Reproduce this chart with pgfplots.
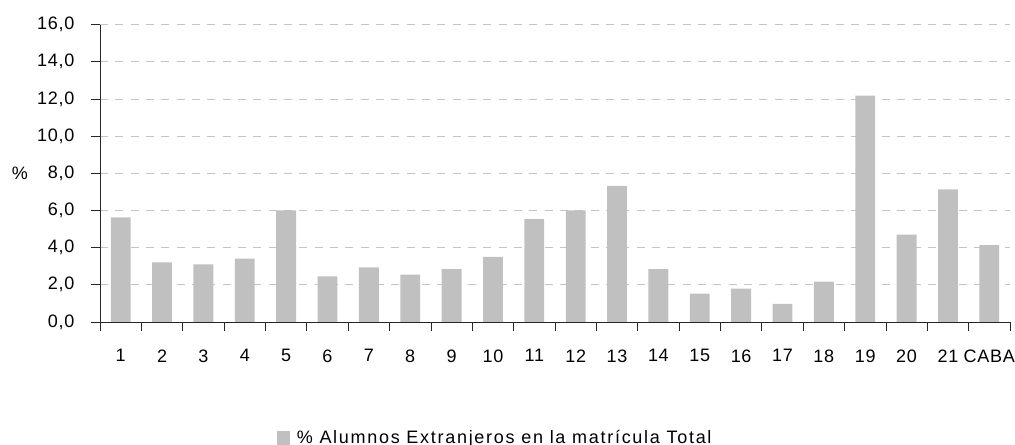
\documentclass[border=0pt]{standalone}
\usepackage{fontspec}
\setmainfont[LetterSpace=4]{Liberation Sans}
\newfontfamily\legendfont[LetterSpace=9.5]{Liberation Sans}
\usepackage{pgfplots}
\pgfplotsset{compat=1.18}
\definecolor{bargray}{HTML}{C0C0C0}
\definecolor{gridgray}{HTML}{C4C4C4}
\begin{document}
\fontsize{13.5}{16}\selectfont
\begin{tikzpicture}[x=1pt,y=1pt]
\path[use as bounding box] (-75,-92.25) rectangle (686.25,241.5);
\begin{axis}[
    at={(0,0)}, anchor=south west,
    scale only axis, width=682.5pt, height=223pt,
    xmin=-0.5, xmax=21.5, ymin=0, ymax=16,
    axis x line*=bottom, axis y line*=left,
    axis line style={-, black!85},
    xtick={-0.5,0.5,...,21.5},
    x tick label as interval,
    xticklabels={1,2,3,4,5,6,7,8,9,10,11,12,13,14,15,16,17,18,19,20,21,CABA},
    ytick={0,2,...,16},
    tick align=outside,
    major tick length=6.5pt,
    tick style={black!85, line width=0.6pt},
    ymajorgrids,
    grid style={gridgray, dash pattern=on 6pt off 5.5pt, line width=0.6pt},
    /pgf/number format/assume math mode=true,
    yticklabel style={anchor=east, xshift=-8pt, /pgf/number format/.cd, fixed, fixed zerofill, precision=1, use comma, /tikz/.cd},
    xticklabel style={yshift=-9.5pt},
    legend style={draw=none, at={(0.194,-0.39)}, anchor=west, inner sep=0pt, font=\legendfont},
    legend image code/.code={\fill[#1] (0pt,-5pt) rectangle (10pt,5pt); \path (13pt,0pt);},
    clip=false,
]
\addplot[ybar, bar width=0.48, fill=bargray, draw=none] coordinates {
    (0,5.63) (1,3.21) (2,3.10) (3,3.41) (4,6.01) (5,2.46) (6,2.94) (7,2.55)
    (8,2.84) (9,3.50) (10,5.54) (11,6.01) (12,7.32) (13,2.84) (14,1.52)
    (15,1.79) (16,0.97) (17,2.17) (18,12.18) (19,4.70) (20,7.14) (21,4.14)
};
\addlegendentry{\% Alumnos Extranjeros en la matrícula Total}
\node at (rel axis cs:0,0.5) [xshift=-60pt] {\%};
\end{axis}
\end{tikzpicture}
\end{document}
